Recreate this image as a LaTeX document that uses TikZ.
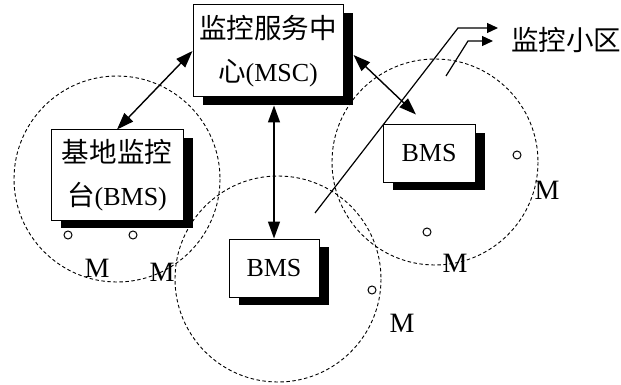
\documentclass[tikz,border=0pt]{standalone}
\usepackage{fontspec}
\setmainfont{Liberation Serif}
\newfontfamily\cjk[Scale=1.06]{Noto Sans CJK SC}
\usetikzlibrary{shadows,calc,arrows.meta}
\begin{document}
\begin{tikzpicture}[x=1pt,y=-1pt,
  font=\fontsize{26}{43}\selectfont,
  cell/.style={dash pattern=on 3.5pt off 2.5pt, line width=0.9pt},
  box/.style={draw, fill=white, line width=1pt, inner sep=0pt, align=center,
    drop shadow={shadow xshift=10pt, shadow yshift=-8pt, fill=black, opacity=1}},
  link/.style={line width=1.4pt, {Triangle[length=17pt,width=12pt]}-{Triangle[length=17pt,width=12pt]}},
  call/.style={line width=1.2pt, -{Triangle[length=11pt,width=10pt]}},
  mobile/.style={circle, draw, line width=1pt, minimum size=8pt, inner sep=0pt},
  lab/.style={inner sep=0pt},
  mlab/.style={inner sep=0pt, font=\fontsize{28}{30}\selectfont}]
\useasboundingbox (0,0) rectangle (621,385);
% cells
\draw[cell] (117,179) circle (103);
\draw[cell] (278,279) circle (103);
\draw[cell] (435,162) circle (103);
% boxes
\node[box, minimum width=150pt, minimum height=92pt] (msc) at (268,51) {{\cjk 监控服务中}\\{\cjk 心}(MSC)};
\node[box, minimum width=132pt, minimum height=90pt] (left) at (117,175) {{\cjk 基地监控}\\{\cjk 台}(BMS)};
\node[box, minimum width=92pt, minimum height=57pt] (rbms) at (429,153.5) {BMS};
\node[box, minimum width=90pt, minimum height=58pt] (mbms) at (274,268) {BMS};
% links
\draw[link] (msc.west) -- (left.north);
\draw[link] ($(msc.east)+(10,4)$) -- ($(rbms.north)+(-13,-10)$);
\draw[link] ($(mbms.north |- msc.south)+(0,8)$) -- (mbms.north);
% mobiles
\node[mobile] (m1) at (68,235) {};
\node[mobile] (m2) at (133,235) {};
\node[mobile] (m3) at (517,155) {};
\node[mobile] (m4) at (372,290) {};
\node[mobile] (m5) at (427,232) {};
\node[mlab] (t1) at (97,268) {M};
\node[mlab] (t2) at (162,272) {M};
\node[mlab] (t3) at (547,190) {M};
\node[mlab] (t4) at (455,263) {M};
\node[mlab] (t5) at (402,323) {M};
% callout
\node[lab, anchor=west] (zone) at (511,40) {\cjk 监控小区};
\coordinate (c1) at (315,213);
\coordinate (c2) at (458,28);
\coordinate (c3) at (498,28);
\coordinate (d1) at (446,76);
\coordinate (d2) at (468,41);
\coordinate (d3) at (493,41);
\draw[call] (c1) -- (c2) -- (c3);
\draw[call] (d1) -- (d2) -- (d3);
\end{tikzpicture}
\end{document}
